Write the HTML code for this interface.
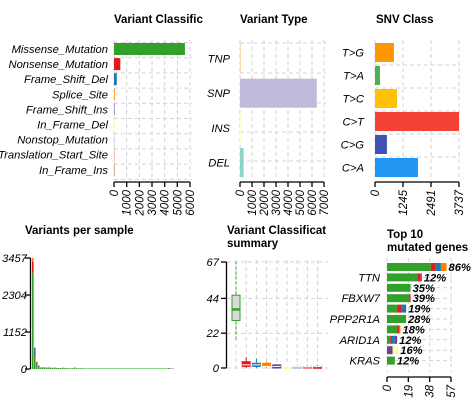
<!DOCTYPE html>
<html><head><meta charset="utf-8"><style>
html,body{margin:0;padding:0;background:#fff;}
svg{display:block;font-family:"Liberation Sans",sans-serif;}
.t{font-weight:bold;font-size:11.5px;fill:#000;}
.l{font-style:italic;font-size:11.2px;fill:#000;}
.k{font-style:italic;font-size:11.5px;fill:#000;}
.g{stroke:#d3d3d3;stroke-dasharray:4,3;stroke-width:1;}
.ax{stroke:#000;stroke-width:1.3;fill:none;}
</style></head><body>
<svg id="c" width="472" height="410" xmlns="http://www.w3.org/2000/svg">
<defs><clipPath id="p5clip"><rect x="0" y="0" width="326" height="410"/></clipPath></defs>
</svg>
<script>
// Panel 1: variant classification
const vcCats=["Missense_Mutation","Nonsense_Mutation","Frame_Shift_Del","Splice_Site","Frame_Shift_Ins","In_Frame_Del","Nonstop_Mutation","Translation_Start_Site","In_Frame_Ins"];
const vcVals=[5600,500,220,60,40,25,5,3,2];
const vcTicks=[0,1000,2000,3000,4000,5000,6000];
const vcCols=["#33A02C","#E31A1C","#1F78B4","#FF7F00","#6A3D9A","#FFFF99","#A6CEE3","#FB8072","#B15928"];
// Panel 2: variant type
const vtCats=["TNP","SNP","INS","DEL"];
const vtVals=[2,6400,60,300];
const vtTicks=[0,1000,2000,3000,4000,5000,6000,7000];
const vtCols=["#FDB462","#BEBADA","#FFFFB3","#8DD3C7"];
// Panel 3: SNV class
const snvCats=["T>G","T>A","T>C","C>T","C>G","C>A"];
const snvVals=[845,220,980,3737,530,1910];
const snvTicks=[0,1245,2491,3737];
const snvCols=["#FF9800","#4CAF50","#FFC107","#F44336","#3F51B5","#2196F3"];
// Panel 4: variants per sample (stacks: green, red, blue, other)
const vpsGreen=[3000,380,170,60,50,55,50,45,50,40,40,45,35,30,30,30,25,25,25,25,25,25,25,25,25,20,20,20,20,20,20,20,20,20,20,20,20,20,20,20,20,20,20,20,20,20,20,20,20,20,20,20,20,20,20,20,20,20,20,20,20,20,20,20,20,20,20,20,20,20,0,0];
const vpsRed=[350,40,40,10,0,0,0,0,0,0,0,0,0,0,0,10,10,0,0,0,0,0,0,0,0,0,0,0,0,0,0,0,0,0,0,0,0,0,0,0,0,0,0,0,0,0,0,0,0,0,0,0,0,0,0,0,0,0,0,0,0,0,0,0,0,0,0,0,10,0,0,0];
const vpsBlue=[0,180,0,20,0,0,0,0,0,0,0,0,0,0,0,0,0,0,0,0,0,0,0,0,0,0,0,0,0,0,0,0,0,0,0,0,0,0,0,0,0,0,0,0,0,0,0,0,0,0,0,0,0,0,0,0,0,0,0,0,0,0,0,0,0,0,0,0,0,0,0,0];
const vpsOther=[107,60,10,20,0,0,0,0,0,0,0,0,0,0,0,0,0,0,0,0,0,20,0,0,0,0,0,0,0,0,0,0,0,0,0,0,0,0,0,0,0,0,0,0,0,0,0,0,0,0,0,0,0,0,0,0,0,0,0,0,0,0,0,0,0,0,0,0,0,0,15,0];
const vpsTicks=[0,1152,2304,3457];
// Panel 5: boxplot summary [min,q1,med,q3,max]
const bxStats=[[18,30,37,46,67],[0,1,2,4,7],[0,1,2,3,6],[0,1,1,3,4],[0,0,1,2,2],[0,0,1,1,2],[0,0,1,1,2],[0,0,1,1,2],[0,0,1,1,2]];
const bxCols=["#33A02C","#E31A1C","#1F78B4","#FF7F00","#6A3D9A","#FFFF99","#A6CEE3","#FB8072","#D53E4F"];
const bxTicks=[0,22,44,67];
// Panel 6: top genes
const geneLabels=["","TTN","","FBXW7","","PPP2R1A","","ARID1A","","KRAS"];
const genePct=["86%","12%","35%","39%","19%","28%","18%","12%","16%","12%"];
const gGreen=[39,27,21,20,9,17,9,3,0,7];
const gRed=[4,3,0,1,4,0,2,1,1,0];
const gBlue=[5,0,0,0,3,0,0,3,0,0];
const gPurple=[0,1,0,0,1,0,0,2,4,0];
const gYellow=[0,0,0,0,0,0,0,0,5,0];
const gOrange=[5,0,0,0,0,0,1,0,0,0];
const geneTicks=[0,19,38,57];

const svg=document.getElementById('c');
const NS="http://www.w3.org/2000/svg";
function el(tag,attrs,parent,text){const e=document.createElementNS(NS,tag);for(const k in attrs)e.setAttribute(k,attrs[k]);if(text!==undefined)e.textContent=text;(parent||svg).appendChild(e);return e;}
function grp(name){const g=el('g',{});return g;}
function title(g,x,y,s,name){const t=el('text',{x:x,y:y,class:'t'},g,s);return t;}
function xTicks(g,sx,ticks,y0,name){
  el('line',{x1:sx(ticks[0]),x2:sx(ticks[ticks.length-1]),y1:y0,y2:y0,class:'ax'},g);
  ticks.forEach(v=>{const x=sx(v);el('line',{x1:x,x2:x,y1:y0,y2:y0+5,class:'ax'},g);
    const t=el('text',{x:0,y:0,class:'k','text-anchor':'end',transform:`translate(${x+4},${y0+8}) rotate(-90)`},g,String(v));
    });
}
function hbar(g,sx,rows,vals,cols,top,step,h,labx,labs,name,gridTicks,gTop,gBot){
  gridTicks.forEach(v=>el('line',{x1:sx(v),x2:sx(v),y1:gTop,y2:gBot,class:'g'},g));
  vals.forEach((v,i)=>{const y=top+i*step;
    const r=el('rect',{x:sx(0),y:y,width:Math.max(0.5,sx(v)-sx(0)),height:h,fill:cols[i]},g);
    
    const t=el('text',{x:labx,y:y+h/2+4,class:'l','text-anchor':'end'},g,labs[i]);
    });
}
// P1
{const g=grp('variant-classification-panel');title(g,114,23,'Variant Classific','variant-classification-title');
 const sx=v=>114+v/6000*76;
 for(let i=0;i<=9;i++)el('line',{x1:114,x2:192,y1:42.5+i*15.2,y2:42.5+i*15.2,class:'g'},g);
 hbar(g,sx,vcCats,vcVals,vcCols,43,15.1,12,108,vcCats,'variant-class',vcTicks,40,178);
 xTicks(g,sx,vcTicks,182,'variant-class-tick');}
// P2
{const g=grp('variant-type-panel');title(g,240,23,'Variant Type','variant-type-title');
 const sx=v=>240+v/7000*84;
 [43,73,103,132,161].forEach(y=>el('line',{x1:240,x2:326,y1:y,y2:y,class:'g'},g));
 hbar(g,sx,vtCats,vtVals,vtCols,44,34.7,29,230,vtCats,'variant-type',vtTicks,40,178);
 xTicks(g,sx,vtTicks,182,'variant-type-tick');}
// P3
{const g=grp('snv-class-panel');title(g,376,23,'SNV Class','snv-class-title');
 const sx=v=>375+v/3737*84;
 [65,88,111,134,157].forEach(y=>el('line',{x1:375,x2:460,y1:y,y2:y,class:'g'},g));
 hbar(g,sx,snvCats,snvVals,snvCols,43,23,19,364,snvCats,'snv-class',snvTicks,40,178);
 xTicks(g,sx,snvTicks,182,'snv-class-tick');}
// P4
{const g=grp('variants-per-sample-panel');title(g,25,234,'Variants per sample','variants-per-sample-title');
 const sy=v=>369-v/3457*111; const bw=2;
 vpsGreen.forEach((gv,i)=>{const x=32+i*bw;let base=0;
   [[gv,'#33A02C'],[vpsRed[i],'#E31A1C'],[vpsBlue[i],'#1F78B4'],[vpsOther[i],i==0?'#FF7F00':'#6A3D9A']].forEach(([v,c])=>{if(v<=0)return;
     const r=el('rect',{x:x,y:sy(base+v),width:bw-0.4,height:sy(base)-sy(base+v),fill:c},g);
     base+=v;});});
 el('line',{x1:30.5,x2:30.5,y1:sy(0),y2:sy(3457),class:'ax'},g);
 vpsTicks.forEach(v=>{el('line',{x1:25,x2:30.5,y1:sy(v),y2:sy(v),class:'ax'},g);
   const t=el('text',{x:27,y:sy(v)+4,class:'l','text-anchor':'end'},g,String(v));
   });}
// P5
{const g=grp('variant-classification-summary-panel');
 title(g,227,234,'Variant Classification','vc-summary-title').setAttribute('clip-path','url(#p5clip)');
 title(g,227,247,'summary','vc-summary-title-2');
 const sy=v=>368-v/67*106;
 for(let i=0;i<9;i++)el('line',{x1:236+i*10.2,x2:236+i*10.2,y1:260,y2:370,class:'g'},g);
 bxTicks.forEach(v=>el('line',{x1:227,x2:328,y1:sy(v),y2:sy(v),class:'g'},g));
 bxStats.forEach((s,i)=>{const cx=236+i*10.2,w=8,c=bxCols[i];
   el('line',{x1:cx,x2:cx,y1:sy(s[0]),y2:sy(s[4]),stroke:c,'stroke-dasharray':i==0?'3,2':'none'},g);
   const r=el('rect',{x:cx-w/2,y:sy(s[3]),width:w,height:Math.max(2,sy(s[1])-sy(s[3])),fill:i==0?'#d9d9d9':c,stroke:c},g);
   
   el('line',{x1:cx-w/2,x2:cx+w/2,y1:sy(s[2]),y2:sy(s[2]),stroke:i==0?c:'#fff','stroke-width':i==0?2.5:1},g);});
 el('line',{x1:226.5,x2:226.5,y1:sy(0),y2:sy(67),class:'ax'},g);
 bxTicks.forEach(v=>{el('line',{x1:221,x2:226.5,y1:sy(v),y2:sy(v),class:'ax'},g);
   const t=el('text',{x:219,y:sy(v)+4,class:'l','text-anchor':'end'},g,String(v));
   });}
// P6
{const g=grp('top-genes-panel');title(g,387,238,'Top 10','top-genes-title');title(g,387,251,'mutated genes','top-genes-title-2');
 const sx=v=>387+v/57*64; const step=10.4, top=263, h=8;
 [0,19,38,57].forEach(v=>el('line',{x1:sx(v),x2:sx(v),y1:258,y2:372,class:'g'},g));
 for(let i=0;i<10;i++)el('line',{x1:387,x2:452,y1:top+i*step+h/2,y2:top+i*step+h/2,class:'g'},g);
 gGreen.forEach((gv,i)=>{const y=top+i*step;let base=0;
   [[gv,'#33A02C'],[gRed[i],'#E31A1C'],[gBlue[i],'#1F78B4'],[gPurple[i],'#6A3D9A'],[gYellow[i],'#FFFF99'],[gOrange[i],'#FF7F00']].forEach(([v,c])=>{if(v<=0)return;
     const r=el('rect',{x:sx(base),y:y,width:sx(base+v)-sx(base),height:h,fill:c},g);
     base+=v;});
   const p=el('text',{x:sx(base)+2,y:y+h/2+4,class:'l','font-weight':'bold'},g,genePct[i]);
   
   if(geneLabels[i]){const t=el('text',{x:380,y:y+h/2+4,class:'l','text-anchor':'end'},g,geneLabels[i]);
     }});
 xTicks(g,sx,geneTicks,377,'top-genes-tick');}
</script>
</body></html>
